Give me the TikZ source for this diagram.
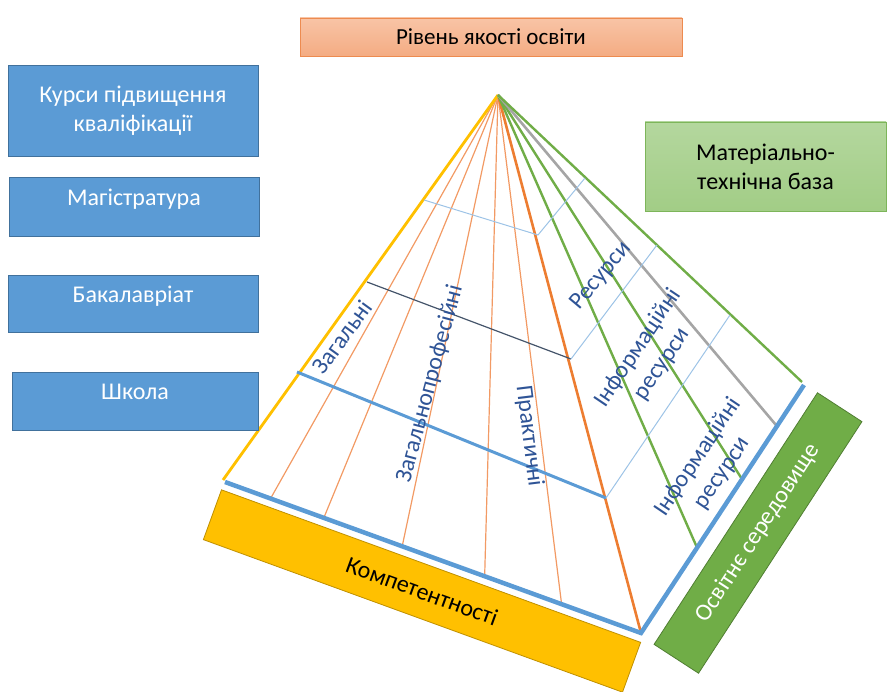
\documentclass[tikz,border=0pt]{standalone}
\usepackage{fontspec}
\setmainfont{Carlito}
\usetikzlibrary{calc}
\definecolor{boxblue}{HTML}{5B9BD5}
\definecolor{boxblueline}{HTML}{41719C}
\definecolor{salmontop}{HTML}{F8C4A6}
\definecolor{salmonbot}{HTML}{F4AC83}
\definecolor{salmonline}{HTML}{ED8B50}
\definecolor{mattop}{HTML}{B4D79E}
\definecolor{matbot}{HTML}{A2CD86}
\definecolor{matline}{HTML}{7DB55A}
\definecolor{kompyellow}{HTML}{FFC000}
\definecolor{kompline}{HTML}{BF9000}
\definecolor{seredgreen}{HTML}{70AD47}
\definecolor{seredline}{HTML}{507E32}
\definecolor{edgeorange}{HTML}{ED7D31}
\definecolor{rayorange}{HTML}{F29A64}
\definecolor{raygray}{HTML}{A5A5A5}
\definecolor{thinblue}{HTML}{9DC3E6}
\definecolor{darkslate}{HTML}{44546A}
\definecolor{pyrtext}{HTML}{2F5496}
\newcommand\boxfont{\fontsize{24}{29}\selectfont}
\newcommand\pyrfont{\fontsize{24}{29}\selectfont}
\begin{document}
\begin{tikzpicture}[x=1pt,y=-1pt,
	levelbox/.style={draw=boxblueline, fill=boxblue, text=white, font=\boxfont, align=center, line width=0.8pt, minimum width=250pt, text height=0.7em, text depth=0.9em},
	topbox/.style={draw=salmonline, top color=salmontop, bottom color=salmonbot, font=\fontsize{23}{28}\selectfont, line width=0.8pt, minimum width=382pt, minimum height=38pt},
	matbox/.style={draw=matline, top color=mattop, bottom color=matbot, font=\boxfont, align=center, line width=0.8pt, minimum width=241pt, minimum height=89pt},
	kompbox/.style={draw=kompline, fill=kompyellow, font=\pyrfont, line width=0.8pt, minimum width=446pt, minimum height=53pt},
	seredbox/.style={draw=seredline, fill=seredgreen, text=white, font=\pyrfont, line width=0.8pt, minimum width=300pt, minimum height=53pt},
	pyrlabel/.style={text=pyrtext, font=\pyrfont, align=center, inner sep=0pt},
	ray/.style={line width=1.2pt, rayorange},
	greenray/.style={line width=2.4pt, seredgreen},
	crossline/.style={line width=1pt, thinblue}
	]
	\useasboundingbox (0,0) rectangle (889,692);
	% pyramid corners
	\coordinate (apex) at (498,95);
	\coordinate (lft) at (223,480);
	\coordinate (frt) at (641,633);
	\coordinate (rgt) at (804,385);

	% left face rays
	\foreach \t in {0.115,0.242,0.429,0.626,0.81}
		\draw [ray] (apex) -- ($(lft)!\t!(frt)$);
	\draw [line width=2.6pt, edgeorange] (apex) -- (frt);
	\draw [line width=2.8pt, kompyellow] (apex) -- (lft);

	% right face rays
	\foreach \t in {0.344,0.62}
		\draw [greenray] (apex) -- ($(frt)!\t!(rgt)$);
	\draw [line width=2.6pt, raygray] (apex) -- ($(frt)!0.834!(rgt)$);
	\draw [greenray] (apex) -- ($(rgt)+(-2,-3)$);

	% levels
	\draw [crossline] (424,200) -- (538,235) -- (585,178);
	\draw [line width=1.2pt, darkslate] (367,282) -- (571,359);
	\draw [crossline] (571,359) -- (657,245);
	\draw [line width=3pt, boxblue] (297,372) -- (606,498);
	\draw [crossline] (606,498) -- (730,315);

	% base
	\draw [line width=4.5pt, boxblue] ($(lft)+(2,2)$) -- (frt) -- (rgt);

	\node [pyrlabel, rotate=54] (zag) at (342,337) {Загальні};
	\node [pyrlabel, rotate=75] (zagprof) at (430,384) {Загальнопрофесійні};
	\node [pyrlabel, rotate=-83] (prakt) at (529,436) {Практичні};
	\node [pyrlabel, rotate=50] (res) at (601,276) {Ресурси};
	\node [pyrlabel, rotate=56] (info) at (650,356) {Інформаційні\\ресурси};
	\node [pyrlabel, rotate=56] (infolow) at (710,465) {Інформаційні\\ресурси};

	% boxes
	\node [topbox] (riven) at (491,37) {Рівень якості освіти};
	\node [levelbox, minimum height=91pt, text height=, text depth=] (kursy) at (133,110.5) {Курси підвищення\\кваліфікації};
	\node [levelbox, minimum height=59pt] (mag) at (134,206.5) {Магістратура};
	\node [levelbox, minimum height=57pt] (bak) at (133,303.5) {Бакалавріат};
	\node [levelbox, minimum height=58pt, minimum width=246pt] (shk) at (135,401) {Школа};
	\node [matbox] (mat) at (765.5,166.5) {Матеріально-\\технічна база};
	\node [kompbox, rotate=-20] (komp) at (422,591) {Компетентності};
	\node [seredbox, rotate=57] (sered) at (758,533) {Освітнє середовище};
\end{tikzpicture}
\end{document}
